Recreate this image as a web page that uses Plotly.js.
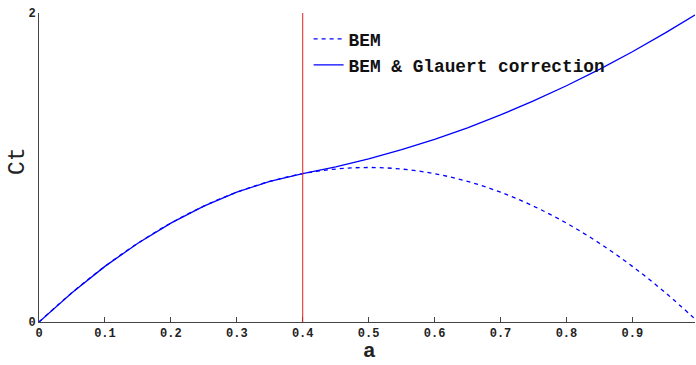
<!DOCTYPE html>
<html>
<head>
<meta charset="utf-8">
<script src="https://cdn.plot.ly/plotly-3.0.1.min.js"></script>
<style>html,body{margin:0;padding:0;background:#fff;}#chart{width:696px;height:365px;}</style>
</head>
<body>
<div id="chart"></div>
<script>
// a values (axial induction factor)
var aBEM = [0, 0.05, 0.1, 0.15, 0.2, 0.25, 0.3, 0.35, 0.4, 0.45, 0.5, 0.55, 0.6, 0.65, 0.7, 0.75, 0.8, 0.85, 0.9, 0.95, 1.0];
var ctBEM = [0, 0.19, 0.36, 0.51, 0.64, 0.75, 0.84, 0.91, 0.96, 0.99, 1.0, 0.99, 0.96, 0.91, 0.84, 0.75, 0.64, 0.51, 0.36, 0.19, 0];
var aGl = [0, 0.05, 0.1, 0.15, 0.2, 0.25, 0.3, 0.35, 0.4, 0.45, 0.5, 0.55, 0.6, 0.65, 0.7, 0.75, 0.8, 0.85, 0.9, 0.95, 1.0];
var ctGl = [0, 0.19, 0.36, 0.51, 0.64, 0.75, 0.84, 0.91, 0.96, 1.004, 1.056, 1.115, 1.182, 1.257, 1.34, 1.431, 1.529, 1.635, 1.749, 1.871, 2.0];
var xTicks = [0, 0.1, 0.2, 0.3, 0.4, 0.5, 0.6, 0.7, 0.8, 0.9];
var yTicks = [0, 2];
var aLimit = 0.4;
var names = ['BEM', 'BEM & Glauert correction'];
var xTitle = 'a';
var yTitle = 'Ct';

var mono = 'Liberation Mono, Courier New, monospace';
var traces = [
  {x: aBEM, y: ctBEM, mode: 'lines', name: names[0], line: {color: '#0000ff', width: 1.3, dash: '4px,4px', shape: 'spline'}},
  {x: aGl, y: ctGl, mode: 'lines', name: names[1], line: {color: '#0000ff', width: 1.3}}
];
var layout = {
  width: 696, height: 365,
  margin: {l: 39, r: 1, t: 13, b: 43},
  paper_bgcolor: '#fff', plot_bgcolor: '#fff',
  showlegend: true,
  legend: {x: 0.411, y: 0.975, xanchor: 'left', yanchor: 'top', bgcolor: 'rgba(0,0,0,0)',
    font: {family: mono, size: 17.8, color: '#111', weight: 'bold'}, itemwidth: 30, tracegroupgap: 0},
  xaxis: {range: [0, 0.995], tickvals: xTicks, ticktext: xTicks.map(function(v){return String(v);}),
    ticks: 'inside', ticklen: 5, tickcolor: '#444', showline: true, linecolor: '#444', linewidth: 1,
    showgrid: false, zeroline: false, tickfont: {family: mono, size: 12, color: '#222', weight: 'bold'}},
  yaxis: {range: [0, 2], tickvals: yTicks, ticktext: yTicks.map(String),
    ticks: 'inside', ticklen: 5, tickcolor: '#444', showline: true, linecolor: '#444', linewidth: 1,
    showgrid: false, zeroline: false, tickfont: {family: mono, size: 12, color: '#222', weight: 'bold'}},
  annotations: [
    {text: xTitle, xref: 'paper', yref: 'paper', x: 0.504, y: -0.097, xanchor: 'center', yanchor: 'middle',
      showarrow: false, borderpad: 0, font: {family: mono, size: 21, color: '#222', weight: 'bold'}},
    {text: yTitle, xref: 'paper', yref: 'paper', x: -0.032, y: 0.521, xanchor: 'center', yanchor: 'middle',
      textangle: -90, showarrow: false, font: {family: mono, size: 23, color: '#222'}}
  ],
  shapes: [{type: 'line', xref: 'x', yref: 'paper', x0: aLimit, x1: aLimit, y0: 0, y1: 1,
    line: {color: '#e02020', width: 1}}]
};
Plotly.newPlot('chart', traces, layout, {displayModeBar: false, staticPlot: true});
</script>
</body>
</html>
